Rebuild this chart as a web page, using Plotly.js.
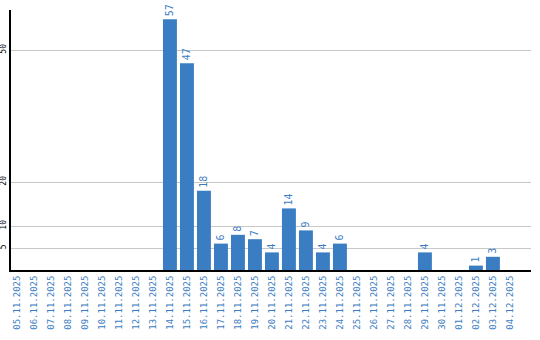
<!DOCTYPE html>
<html><head><meta charset="utf-8">
<script src="https://cdn.plot.ly/plotly-3.0.1.min.js"></script>
<style>html,body{margin:0;padding:0;background:#fff}#c{width:540px;height:340px}</style>
</head><body><div id="c"></div>
<script>
const dates = ["05.11.2025","06.11.2025","07.11.2025","08.11.2025","09.11.2025","10.11.2025","11.11.2025","12.11.2025","13.11.2025","14.11.2025","15.11.2025","16.11.2025","17.11.2025","18.11.2025","19.11.2025","20.11.2025","21.11.2025","22.11.2025","23.11.2025","24.11.2025","25.11.2025","26.11.2025","27.11.2025","28.11.2025","29.11.2025","30.11.2025","01.12.2025","02.12.2025","03.12.2025","04.12.2025"];
const counts = [0,0,0,0,0,0,0,0,0,57,47,18,6,8,7,4,14,9,4,6,0,0,0,0,4,0,0,1,3,0];
const yTicks = [5,10,20,50];

const blue = "#3b7dc3";
const labels = counts.map(v => v > 0 ? String(v) : "");
Plotly.newPlot("c", [{
  type: "bar",
  x: dates.map((d,i)=>i),
  y: counts,
  marker: {color: blue},
  text: labels,
  textposition: "outside",
  textangle: -90,
  cliponaxis: false,
  textfont: {family: "DejaVu Sans Mono", size: 10, color: blue},
  hoverinfo: "none"
}], {
  width: 540, height: 340,
  margin: {l: 11, r: 9, t: 10, b: 70},
  paper_bgcolor: "#fff", plot_bgcolor: "#fff",
  showlegend: false,
  bargap: 0.18,
  xaxis: {
    range: [-0.35, 30.24],
    tickmode: "array",
    tickvals: dates.map((d,i)=>i),
    ticktext: dates,
    tickangle: -90,
    tickfont: {family: "DejaVu Sans Mono", size: 9, color: blue},
    showgrid: false, zeroline: false,
    showline: true, linecolor: "#000", linewidth: 2,
    ticks: "", ticklen: 0
  },
  yaxis: {
    range: [0, 59.1],
    tickmode: "array",
    tickvals: yTicks,
    ticktext: yTicks.map(String),
    tickangle: -90,
    tickfont: {family: "DejaVu Sans Mono", size: 8, color: "#000"},
    showgrid: true, gridcolor: "#c8c8c8", gridwidth: 1,
    zeroline: false,
    showline: true, linecolor: "#000", linewidth: 2,
    ticks: ""
  }
}, {staticPlot: true, displayModeBar: false});
</script></body></html>
